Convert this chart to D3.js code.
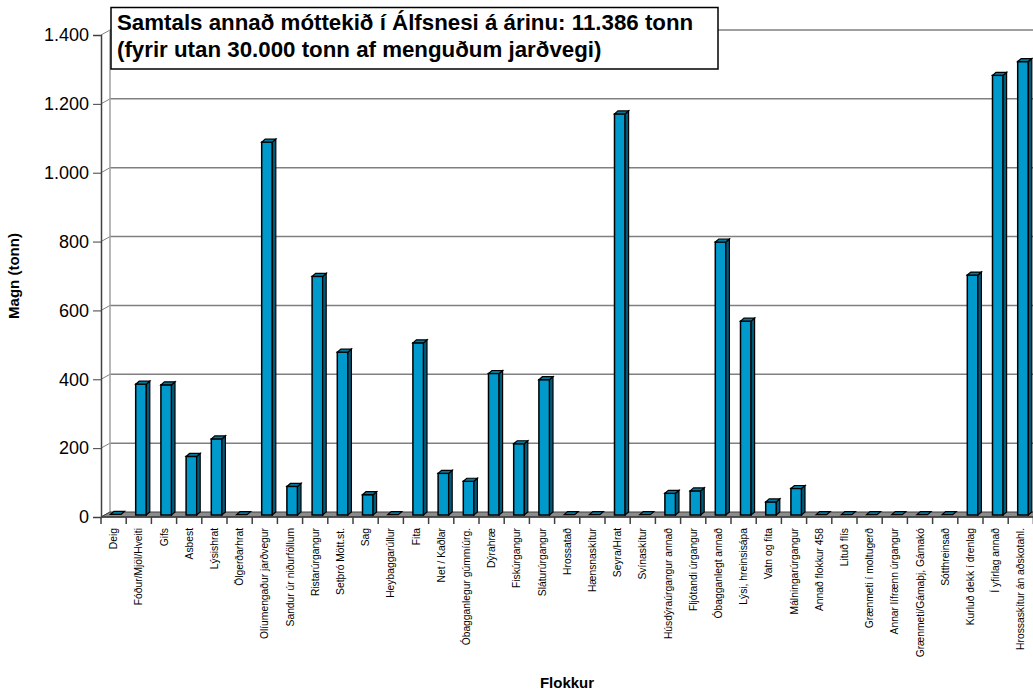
<!DOCTYPE html>
<html>
<head>
<meta charset="utf-8">
<script src="https://cdn.jsdelivr.net/npm/d3@7"></script>
<style>
  body { margin: 0; background: #fff; }
  text { font-family: "Liberation Sans", Arial, sans-serif; }
</style>
</head>
<body>
<div id="chart"></div>
<script>
// Categories and values (tonn)
const categories = [
    "Deig", "Fóður/Mjöl/Hveiti", "Gifs", "Asbest", "Lýsishrat", "Ölgerðarhrat",
    "Olíumengaður jarðvegur", "Sandur úr niðurföllum", "Ristarúrgangur", "Setþró Mött.st.",
    "Sag", "Heybaggarúllur", "Fita", "Net / Kaðlar", "Óbagganlegur gúmmíúrg.", "Dýrahræ",
    "Fiskúrgangur", "Sláturúrgangur", "Hrossatað", "Hænsnaskítur", "Seyra/Hrat", "Svínaskítur",
    "Húsdýraúrgangur annað", "Fljótandi úrgangur", "Óbagganlegt annað", "Lýsi, hreinsisápa",
    "Vatn og fita", "Málningarúrgangur", "Annað flokkur 458", "Lituð flís",
    "Grænmeti í moltugerð", "Annar lífrænn úrgangur", "Grænmeti/Gámaþj, Gámakó",
    "Sótthreinsað", "Kurluð dekk í drenlag", "Í yfirlag annað", "Hrossaskítur án aðskotahl."
];
const values = [
    2, 380, 378, 170, 221, 1,
    1083, 83, 693, 473,
    59, 1, 500, 121, 98, 411,
    207, 393, 1, 1, 1165, 1,
    63, 70, 793, 563,
    38, 77, 1, 1,
    1, 1, 1,
    1, 697, 1277, 1317
];
const yTicks = [0, 200, 400, 600, 800, 1000, 1200, 1400];
const titleLines = [
    "Samtals annað móttekið í Álfsnesi á árinu: 11.386 tonn",
    "(fyrir utan 30.000 tonn af menguðum jarðvegi)"
];

const W = 1033, H = 695;
const plotLeft = 101, plotBottom = 517, plotTop = 35, step = 25.2;
const depth = { x: 9, y: -5 };     // back wall offset
const barDepth = { x: 3.5, y: -3 };

const isFormat = d3.formatLocale({ decimal: ",", thousands: ".", grouping: [3], currency: ["", " kr"] }).format(",");

const svg = d3.select("#chart").append("svg")
    .attr("width", W)
    .attr("height", H);

const x = d3.scaleBand()
    .domain(categories)
    .range([plotLeft, plotLeft + categories.length * step])
    .paddingInner(0).paddingOuter(0);
const y = d3.scaleLinear()
    .domain([0, 1400])
    .range([plotBottom, plotTop]);

const plotRight = plotLeft + categories.length * step;

// Back wall gridlines
svg.append("g")
    .selectAll("line")
    .data(yTicks.slice(1))
    .enter()
    .append("line")
    .attr("x1", plotLeft + depth.x).attr("x2", plotRight + depth.x)
    .attr("y1", d => y(d) + depth.y).attr("y2", d => y(d) + depth.y)
    .attr("stroke", "#808080").attr("stroke-width", 1.5);

// Side wall diagonals at each tick
svg.append("g")
    .selectAll("line")
    .data(yTicks)
    .enter()
    .append("line")
    .attr("x1", plotLeft).attr("y1", d => y(d))
    .attr("x2", plotLeft + depth.x).attr("y2", d => y(d) + depth.y)
    .attr("stroke", "#808080").attr("stroke-width", 1);

// Back wall left edge
svg.append("line")
    .attr("x1", plotLeft + depth.x).attr("x2", plotLeft + depth.x)
    .attr("y1", y(1400) + depth.y).attr("y2", y(0) + depth.y)
    .attr("stroke", "#a0a0a0").attr("stroke-width", 1.5);

// Floor
svg.append("polygon")
    .attr("points", [
        [plotLeft, y(0)], [plotLeft + depth.x, y(0) + depth.y],
        [plotRight + depth.x, y(0) + depth.y], [plotRight, y(0)]
    ].map(p => p.join(",")).join(" "))
    .attr("fill", "#8c8c8c")
    .attr("stroke", "#404040").attr("stroke-width", 1);

// Bars
const bars = svg.append("g");
categories.forEach((c, i) => {
    const v = values[i];
    const x0 = x(c) + 9.5, w = 10.6;
    const b = y(0) - 2, t = y(v) - 2;
    const pts = a => a.map(p => p.join(",")).join(" ");
    if (v > 3) {
        bars.append("rect")
            .attr("x", x0).attr("y", t)
            .attr("width", w).attr("height", b - t)
            .attr("fill", "#0099cc")
            .attr("stroke", "#000").attr("stroke-width", 1.5);
        bars.append("polygon")
            .attr("points", pts([[x0 + w, t], [x0 + w + barDepth.x, t + barDepth.y],
                [x0 + w + barDepth.x, b + barDepth.y], [x0 + w, b]]))
            .attr("fill", "#005a7a")
            .attr("stroke", "#000").attr("stroke-width", 1.2);
    }
    bars.append("polygon")
        .attr("points", pts([[x0, t], [x0 + barDepth.x, t + barDepth.y],
            [x0 + w + barDepth.x, t + barDepth.y], [x0 + w, t]]))
        .attr("fill", "#00799f")
        .attr("stroke", "#000").attr("stroke-width", 1.2);
});

// Y axis
svg.append("g")
    .attr("transform", `translate(${plotLeft},0)`)
    .call(d3.axisLeft(y).tickValues(yTicks).tickSize(8).tickPadding(4).tickFormat(isFormat))
    .call(g => g.select(".domain").attr("stroke", "#404040").attr("stroke-width", 1.5))
    .call(g => g.selectAll(".tick line").attr("stroke", "#404040"))
    .call(g => g.selectAll(".tick text")
        .attr("font-family", "Liberation Sans, Arial, sans-serif")
        .style("font-size", "18px").attr("fill", "#000"));

// X axis line and boundary ticks
svg.append("line")
    .attr("x1", plotLeft).attr("x2", plotRight)
    .attr("y1", y(0)).attr("y2", y(0))
    .attr("stroke", "#404040").attr("stroke-width", 1.5);
svg.append("g")
    .selectAll("line")
    .data(d3.range(categories.length + 1))
    .enter()
    .append("line")
    .attr("x1", i => plotLeft + i * step).attr("x2", i => plotLeft + i * step)
    .attr("y1", y(0)).attr("y2", y(0) + 7)
    .attr("stroke", "#404040").attr("stroke-width", 1.5);

// Category labels
svg.append("g")
    .selectAll("text")
    .data(categories)
    .enter()
    .append("text")
    .attr("transform", d => `translate(${x(d) + x.bandwidth() / 2 + 3.5},${y(0) + 11}) rotate(-90)`)
    .attr("text-anchor", "end")
    .style("font-size", "10.3px")
    .text(d => d);

// Axis titles
svg.append("text")
    .attr("transform", `translate(19,${(plotTop + plotBottom) / 2}) rotate(-90)`)
    .attr("text-anchor", "middle")
    .style("font-size", "15px").style("font-weight", "bold")
    .text("Magn (tonn)");
svg.append("text")
    .attr("x", (plotLeft + W) / 2).attr("y", 688)
    .attr("text-anchor", "middle")
    .style("font-size", "15px").style("font-weight", "bold")
    .text("Flokkur");

// Title box
svg.append("rect")
    .attr("x", 111).attr("y", 7.5)
    .attr("width", 607).attr("height", 61.5)
    .attr("fill", "#fff")
    .attr("stroke", "#000").attr("stroke-width", 1.5);
svg.append("g")
    .selectAll("text")
    .data(titleLines)
    .enter()
    .append("text")
    .attr("x", 117)
    .attr("y", (d, i) => 30 + i * 26.5)
    .style("font-size", "22.3px").style("font-weight", "bold")
    .text(d => d);
</script>
</body>
</html>
